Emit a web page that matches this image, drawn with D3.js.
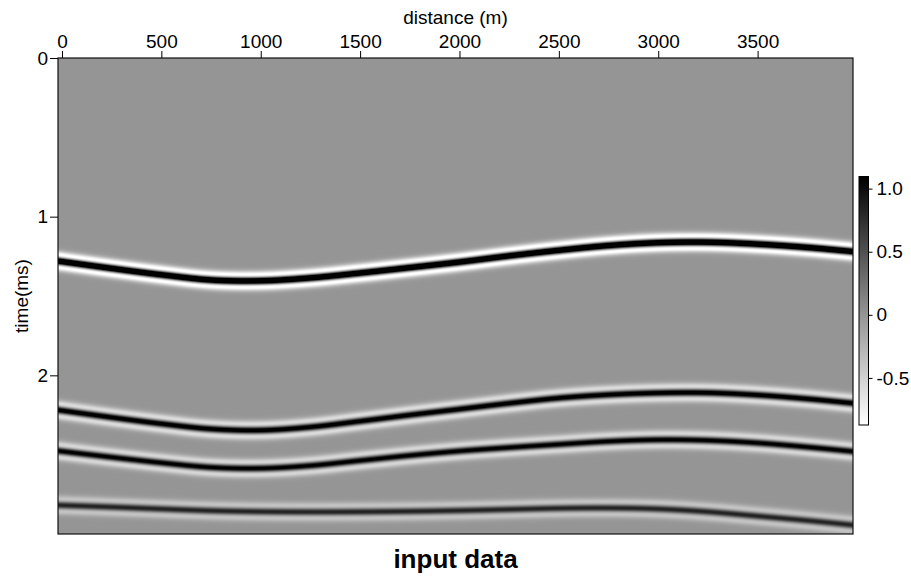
<!DOCTYPE html>
<html>
<head>
<meta charset="utf-8">
<script src="https://cdn.jsdelivr.net/npm/d3@7"></script>
<style>
  html, body { margin: 0; padding: 0; background: #fff; }
  svg { display: block; font-family: "Liberation Sans", Arial, Helvetica, sans-serif; }
</style>
</head>
<body>
<svg id="chart" width="911" height="577"></svg>
<script>
// Horizon picks: two-way time (ms) of each reflector at regular distances (m)
const pickDistance = [0, 250, 500, 750, 1000, 1250, 1500, 1750, 2000, 2250, 2500, 2750, 3000, 3250, 3500, 3750, 4000];
const horizon1 = [1.283, 1.326, 1.366, 1.399, 1.404, 1.386, 1.355, 1.321, 1.286, 1.247, 1.212, 1.182, 1.164, 1.161, 1.173, 1.194, 1.222];
const horizon2 = [2.222, 2.265, 2.305, 2.338, 2.346, 2.326, 2.289, 2.250, 2.213, 2.176, 2.143, 2.122, 2.111, 2.110, 2.124, 2.148, 2.178];
const horizon3 = [2.479, 2.516, 2.551, 2.580, 2.586, 2.569, 2.537, 2.505, 2.477, 2.455, 2.435, 2.416, 2.406, 2.410, 2.426, 2.452, 2.482];
const horizon4 = [2.819, 2.830, 2.842, 2.853, 2.859, 2.861, 2.860, 2.857, 2.852, 2.845, 2.838, 2.836, 2.842, 2.860, 2.887, 2.915, 2.946];
const reflectivity = [2.0, 1.3, 1.2, 0.85];
const peakFrequency = 9.5;            // Ricker wavelet dominant frequency (1/ms)

// Axis extents and ticks
const distanceExtent = [-20, 3980];
const timeExtent = [0, 3];
const distanceTicks = [0, 500, 1000, 1500, 2000, 2500, 3000, 3500];
const timeTicks = [0, 1, 2];
const amplitudeExtent = [-0.873, 1.096];
const amplitudeTicks = [-0.5, 0, 0.5, 1.0];
const amplitudeTickLabels = ["-0.5", "0", "0.5", "1.0"];

const svg = d3.select("#chart");
const plot = { left: 58, top: 58, right: 853, bottom: 534 };

const x = d3.scaleLinear().domain(distanceExtent).range([plot.left, plot.right]);
const y = d3.scaleLinear().domain(timeExtent).range([plot.top, plot.bottom]);
const color = d3.scaleLinear()
  .domain([amplitudeExtent[0], 0, amplitudeExtent[1]])
  .range(["#ffffff", "#959595", "#000000"])
  .clamp(true);

// Catmull-Rom through evenly spaced picks
function horizonAt(picks, dist) {
  const step = pickDistance[1] - pickDistance[0];
  const n = picks.length;
  const u = (dist - pickDistance[0]) / step;
  if (u <= 0) return picks[0] + (picks[1] - picks[0]) * u;
  if (u >= n - 1) return picks[n - 1] + (picks[n - 1] - picks[n - 2]) * (u - (n - 1));
  const i = Math.floor(u), f = u - i;
  const p0 = i > 0 ? picks[i - 1] : 2 * picks[0] - picks[1];
  const p1 = picks[i], p2 = picks[i + 1];
  const p3 = i + 2 < n ? picks[i + 2] : 2 * picks[n - 1] - picks[n - 2];
  return 0.5 * ((2 * p1) + (-p0 + p2) * f + (2 * p0 - 5 * p1 + 4 * p2 - p3) * f * f + (-p0 + 3 * p1 - 3 * p2 + p3) * f * f * f);
}

function ricker(tau) {
  const a = Math.PI * peakFrequency * tau;
  const a2 = a * a;
  return (1 - 2 * a2) * Math.exp(-a2);
}

// Section image, one sample per screen pixel
const horizons = [horizon1, horizon2, horizon3, horizon4];
const w = Math.round(plot.right - plot.left), h = Math.round(plot.bottom - plot.top);
const canvas = document.createElement("canvas");
canvas.width = w; canvas.height = h;
const ctx = canvas.getContext("2d");
const img = ctx.createImageData(w, h);

const lutSize = 1024;
const lut = d3.range(lutSize).map(i => {
  const v = amplitudeExtent[0] + (amplitudeExtent[1] - amplitudeExtent[0]) * i / (lutSize - 1);
  return d3.rgb(color(v));
});
const times = d3.range(h).map(j => y.invert(plot.top + j + 0.5));

for (let i = 0; i < w; i++) {
  const dist = x.invert(plot.left + i + 0.5);
  const ht = horizons.map(p => horizonAt(p, dist));
  for (let j = 0; j < h; j++) {
    const t = times[j];
    let v = 0;
    for (let k = 0; k < ht.length; k++) v += reflectivity[k] * ricker(t - ht[k]);
    let li = Math.round((v - amplitudeExtent[0]) / (amplitudeExtent[1] - amplitudeExtent[0]) * (lutSize - 1));
    li = Math.max(0, Math.min(lutSize - 1, li));
    const c = lut[li];
    const o = (j * w + i) * 4;
    img.data[o] = c.r; img.data[o + 1] = c.g; img.data[o + 2] = c.b; img.data[o + 3] = 255;
  }
}
ctx.putImageData(img, 0, 0);

svg.append("image")
  .attr("x", plot.left).attr("y", plot.top)
  .attr("width", w).attr("height", h)
  .attr("preserveAspectRatio", "none")
  .attr("href", canvas.toDataURL());

svg.append("rect")
  .attr("x", plot.left).attr("y", plot.top)
  .attr("width", plot.right - plot.left).attr("height", plot.bottom - plot.top)
  .attr("fill", "none").attr("stroke", "#111").attr("stroke-width", 1.2);

const fontSize = 19;

const xAxis = svg.append("g")
  .attr("transform", `translate(0,${plot.top})`)
  .call(d3.axisTop(x).tickValues(distanceTicks).tickFormat(d3.format("d")).tickSize(7).tickPadding(3).tickSizeOuter(0));
const yAxis = svg.append("g")
  .attr("transform", `translate(${plot.left},0)`)
  .call(d3.axisLeft(y).tickValues(timeTicks).tickFormat(d3.format("d")).tickSize(8).tickPadding(2).tickSizeOuter(0));
[xAxis, yAxis].forEach(g => {
  g.select(".domain").remove();
  g.selectAll("text").attr("font-size", fontSize).attr("fill", "#000").attr("font-family", null);
  g.selectAll("line").attr("stroke", "#000");
});

svg.append("text")
  .attr("x", (plot.left + plot.right) / 2).attr("y", 24)
  .attr("text-anchor", "middle").attr("font-size", fontSize)
  .text("distance (m)");

svg.append("text")
  .attr("transform", `translate(28,${(plot.top + plot.bottom) / 2}) rotate(-90)`)
  .attr("text-anchor", "middle").attr("font-size", fontSize)
  .text("time(ms)");

svg.append("text")
  .attr("x", (plot.left + plot.right) / 2).attr("y", 568)
  .attr("text-anchor", "middle").attr("font-size", 26).attr("font-weight", "bold")
  .text("input data");

// Colour bar
const cb = { left: 859, width: 9.5, top: 176.5, bottom: 425 };
const cbScale = d3.scaleLinear().domain(amplitudeExtent).range([cb.bottom, cb.top]);
const grad = svg.append("defs").append("linearGradient")
  .attr("id", "cbGrad").attr("x1", 0).attr("y1", 1).attr("x2", 0).attr("y2", 0);
d3.range(0, 1.0001, 0.05).forEach(f => {
  const v = amplitudeExtent[0] + f * (amplitudeExtent[1] - amplitudeExtent[0]);
  grad.append("stop").attr("offset", f).attr("stop-color", color(v));
});
svg.append("rect")
  .attr("x", cb.left).attr("y", cb.top)
  .attr("width", cb.width).attr("height", cb.bottom - cb.top)
  .attr("fill", "url(#cbGrad)").attr("stroke", "#000").attr("stroke-width", 1);
const cbAxis = svg.append("g")
  .attr("transform", `translate(${cb.left + cb.width},0)`)
  .call(d3.axisRight(cbScale).tickValues(amplitudeTicks)
    .tickFormat((d, i) => amplitudeTickLabels[i]).tickSize(4).tickPadding(4).tickSizeOuter(0));
cbAxis.select(".domain").remove();
cbAxis.selectAll("text").attr("font-size", fontSize).attr("fill", "#000").attr("font-family", null);
cbAxis.selectAll("line").attr("stroke", "#000");
</script>
</body>
</html>
